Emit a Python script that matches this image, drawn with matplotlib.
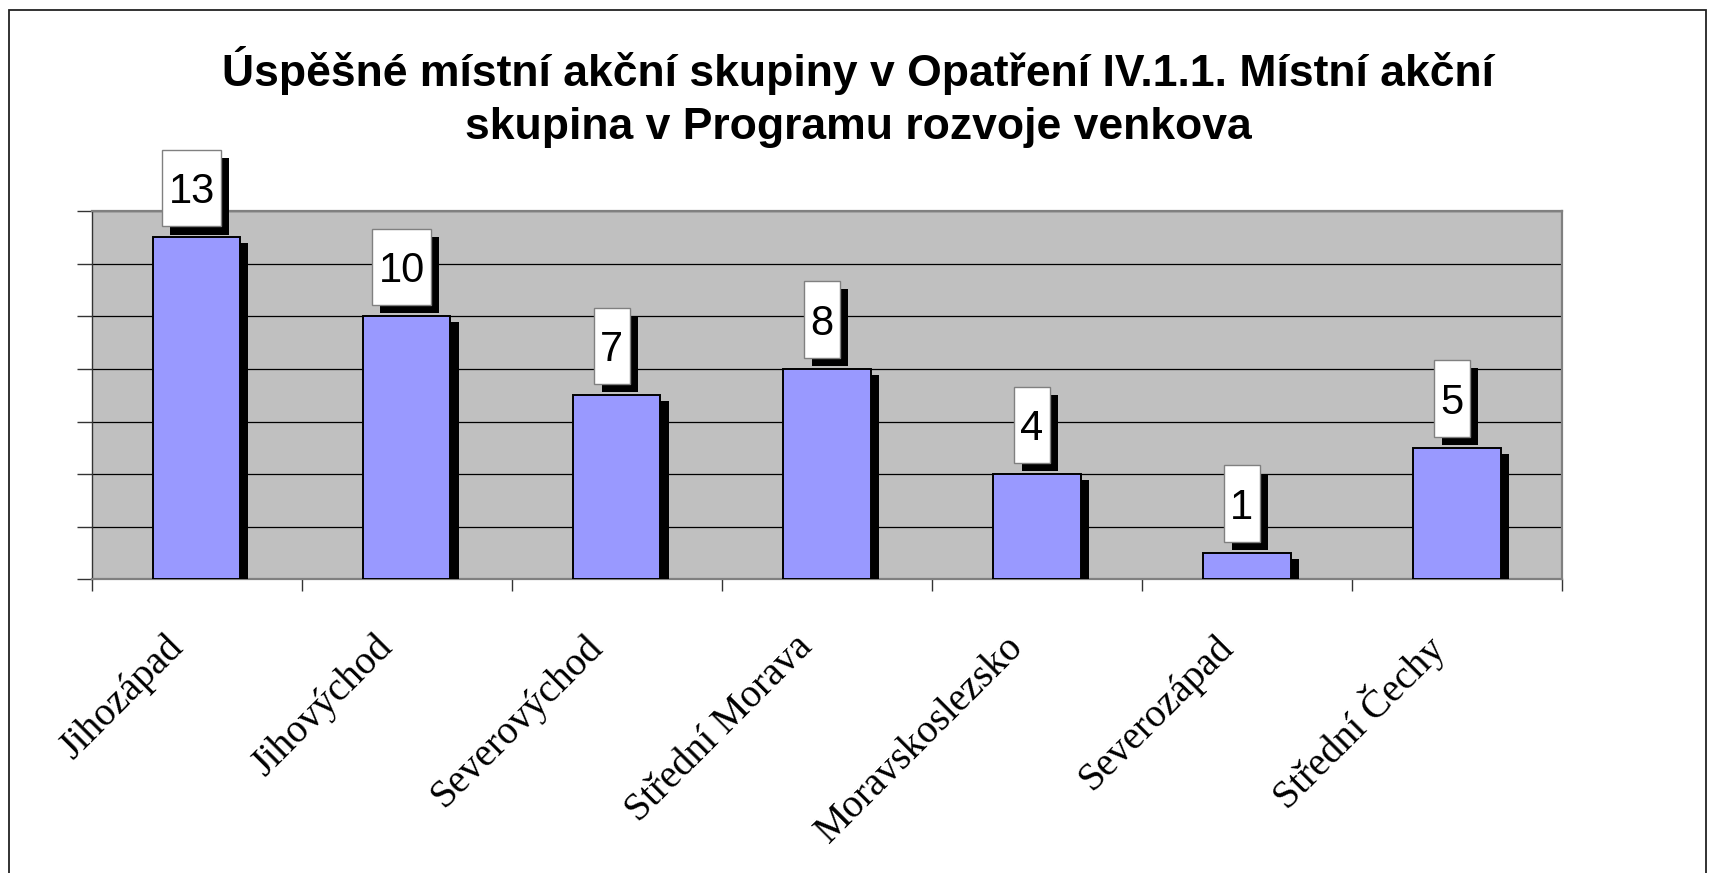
import matplotlib
matplotlib.use("Agg")
import matplotlib.pyplot as plt
import matplotlib.patheffects as pe
from matplotlib.path import Path
from matplotlib.patches import Rectangle

# data
regions = ["Jihozápad", "Jihovýchod", "Severovýchod", "Střední Morava",
           "Moravskoslezsko", "Severozápad", "Střední Čechy"]
counts = [13, 10, 7, 8, 4, 1, 5]
y_ticks = [0, 2, 4, 6, 8, 10, 12, 14]

title = ("Úspěšné místní akční skupiny v Opatření IV.1.1. Místní akční\n"
         "skupina v Programu rozvoje venkova")

W, H = 1711, 873
fig = plt.figure(figsize=(W / 100, H / 100), dpi=100)
fig.patch.set_facecolor("white")

# outer frame of the chart (bottom edge is cut off in the original)
fig.add_artist(Rectangle((9 / W, -0.02), (1706 - 9) / W, 1.02 - 10 / H,
                         transform=fig.transFigure, fill=False,
                         edgecolor="#222222", linewidth=1.3))

ax = fig.add_axes([91.7 / W, 1 - 579.3 / H, (1562 - 91.7) / W, (579.3 - 211.2) / H])
ax.set_facecolor("#C0C0C0")

x = list(range(len(regions)))
bars = ax.bar(x, counts, width=0.416, color="#9999FF", edgecolor="black",
              linewidth=1.4, zorder=3)
for b in bars:
    b.set_path_effects([pe.SimplePatchShadow(offset=(5.8, -4.3), shadow_rgbFace="black", alpha=1.0),
                        pe.Normal()])

ax.set_xlim(-0.5, len(regions) - 0.5)
ax.set_ylim(0, 14)
ax.set_yticks(y_ticks)
ax.set_yticklabels([])
ax.set_xticks([i - 0.5 for i in range(len(regions) + 1)])
ax.set_xticklabels([])
ax.tick_params(axis="y", length=10.8, width=1, color="#333333", direction="out")
ax.tick_params(axis="x", length=8.6, width=1, color="#333333", direction="out")
ax.set_axisbelow(True)
ax.yaxis.grid(True, color="black", linewidth=0.9)

for side in ["top", "right"]:
    ax.spines[side].set_color("#808080")
    ax.spines[side].set_linewidth(1.6)
ax.spines["left"].set_color("#333333")
ax.spines["left"].set_linewidth(1.0)
ax.spines["bottom"].set_color("#808080")
ax.spines["bottom"].set_linewidth(1.6)


def label_box(x0, y0, width, height, mutation_size):
    # taller than wide box like the Excel data labels (pixels)
    px, pb, pt = 6.5, 14.0, 22.5
    l, r = x0 - px, x0 + width + px
    b, t = y0 - pb, y0 + height + pt
    return Path([(l, b), (r, b), (r, t), (l, t), (l, b)],
                [Path.MOVETO, Path.LINETO, Path.LINETO, Path.LINETO, Path.CLOSEPOLY])


for i, v in zip(x, counts):
    t = ax.annotate(str(v), xy=(i, v), xytext=(-3.6, 24.5), textcoords="offset points",
                    ha="center", va="baseline", fontsize=30,
                    family="Liberation Sans", zorder=5,
                    bbox=dict(boxstyle=label_box, facecolor="white",
                              edgecolor="#808080", linewidth=1.0))
    t.get_bbox_patch().set_path_effects(
        [pe.SimplePatchShadow(offset=(5.8, -5.8), shadow_rgbFace="black", alpha=1.0),
         pe.Normal()])

# category labels, rotated 45 degrees
for i, name in zip(x, regions):
    ax.annotate(name, xy=(i, 0), xycoords=("data", "axes fraction"),
                xytext=(-14.0, -45.0), textcoords="offset points",
                rotation=45, rotation_mode="anchor", ha="right", va="center",
                fontsize=28.5, family="Liberation Serif")

fig.text(858 / W, 1 - 46 / H, title, ha="center", va="top", multialignment="center",
         fontsize=32, fontweight="bold", family="Liberation Sans", linespacing=1.38)

fig.savefig("out.png", dpi=100)
